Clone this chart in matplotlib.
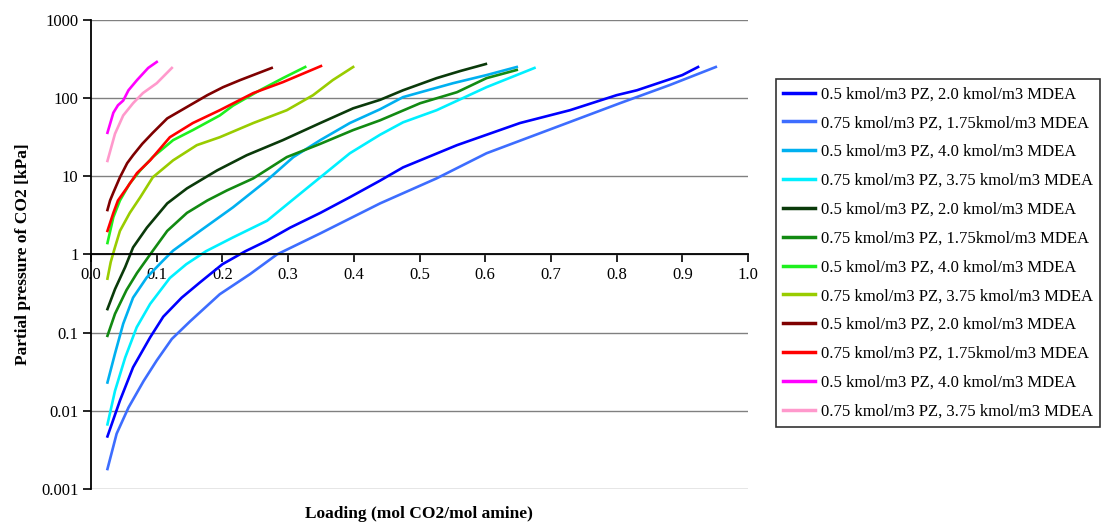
import matplotlib
matplotlib.use("Agg")
import matplotlib.pyplot as plt
from matplotlib.ticker import FixedLocator, FuncFormatter

plt.rcParams['font.family'] = ['Liberation Serif', 'DejaVu Serif']

# values (loading, kPa)
blue_x = [0.025, 0.044, 0.064, 0.09, 0.11, 0.138, 0.166, 0.20, 0.235, 0.268, 0.303, 0.349, 0.394, 0.44, 0.475, 0.557, 0.653, 0.729, 0.80, 0.831, 0.90, 0.924]
blue_y = [0.0047, 0.0135, 0.036, 0.087, 0.16, 0.28, 0.44, 0.75, 1.1, 1.5, 2.2, 3.4, 5.4, 8.8, 13, 25, 48, 70, 109, 126, 197, 250]

royal_x = [0.025, 0.039, 0.057, 0.080, 0.10, 0.123, 0.151, 0.196, 0.242, 0.283, 0.349, 0.44, 0.526, 0.602, 0.703, 0.805, 0.881, 0.951]
royal_y = [0.0018, 0.0051, 0.011, 0.024, 0.044, 0.083, 0.14, 0.31, 0.56, 1.0, 1.86, 4.5, 9.4, 19.7, 41, 86, 147, 250]

sky_x = [0.025, 0.0365, 0.049, 0.064, 0.085, 0.11, 0.125, 0.166, 0.216, 0.268, 0.308, 0.349, 0.394, 0.44, 0.475, 0.551, 0.602, 0.648]
sky_y = [0.023, 0.054, 0.13, 0.28, 0.51, 0.84, 1.12, 2.0, 4.0, 8.9, 17.6, 29, 48, 72, 103, 155, 197, 250]

cyan_x = [0.025, 0.0365, 0.052, 0.0695, 0.09, 0.12, 0.145, 0.175, 0.216, 0.268, 0.303, 0.349, 0.394, 0.44, 0.475, 0.526, 0.602, 0.675]
cyan_y = [0.0067, 0.018, 0.048, 0.117, 0.233, 0.50, 0.75, 1.1, 1.65, 2.7, 4.7, 9.7, 19.7, 34, 49, 70, 138, 243]

dkgreen_x = [0.025, 0.0365, 0.052, 0.064, 0.085, 0.116, 0.146, 0.192, 0.237, 0.292, 0.349, 0.399, 0.44, 0.475, 0.526, 0.562, 0.601]
dkgreen_y = [0.20, 0.36, 0.69, 1.23, 2.2, 4.5, 7.0, 11.9, 18.6, 29, 48, 74, 95, 126, 180, 222, 273]

green_x = [0.025, 0.0365, 0.054, 0.070, 0.09, 0.116, 0.146, 0.177, 0.207, 0.247, 0.298, 0.349, 0.399, 0.44, 0.501, 0.557, 0.602, 0.648]
green_y = [0.091, 0.174, 0.35, 0.58, 1.0, 2.0, 3.4, 4.9, 6.6, 9.4, 17.6, 26, 39, 52, 86, 119, 180, 229]

lime_x = [0.025, 0.034, 0.044, 0.059, 0.075, 0.094, 0.125, 0.155, 0.196, 0.216, 0.257, 0.292, 0.326]
lime_y = [1.4, 3.0, 4.9, 8.1, 11.9, 17.6, 29, 39, 60, 80, 126, 180, 250]

olive_x = [0.025, 0.030, 0.036, 0.044, 0.059, 0.075, 0.094, 0.125, 0.161, 0.196, 0.247, 0.298, 0.338, 0.368, 0.399]
olive_y = [0.49, 0.8, 1.2, 2.0, 3.4, 5.4, 9.7, 16, 25, 31.6, 48, 70, 109, 170, 250]

maroon_x = [0.025, 0.029, 0.034, 0.044, 0.055, 0.064, 0.078, 0.094, 0.116, 0.146, 0.177, 0.201, 0.227, 0.275]
maroon_y = [3.7, 4.9, 6.2, 9.7, 14.7, 18.6, 26, 36, 55, 77, 109, 138, 170, 243]

red_x = [0.025, 0.034, 0.041, 0.055, 0.07, 0.09, 0.12, 0.155, 0.196, 0.247, 0.292, 0.35]
red_y = [2.0, 3.4, 4.9, 7.2, 11, 16, 31.6, 48, 70, 116, 160, 257]

magenta_x = [0.025, 0.034, 0.041, 0.049, 0.057, 0.07, 0.087, 0.10]
magenta_y = [36, 65, 81, 93, 126, 170, 243, 290]

pink_x = [0.025, 0.0365, 0.049, 0.064, 0.079, 0.10, 0.123]
pink_y = [15.7, 35, 60, 86, 116, 155, 243]

labels = ["0.5 kmol/m3 PZ, 2.0 kmol/m3 MDEA",
          "0.75 kmol/m3 PZ, 1.75kmol/m3 MDEA",
          "0.5 kmol/m3 PZ, 4.0 kmol/m3 MDEA",
          "0.75 kmol/m3 PZ, 3.75 kmol/m3 MDEA"] * 3

series = [(blue_x, blue_y), (royal_x, royal_y), (sky_x, sky_y), (cyan_x, cyan_y),
          (dkgreen_x, dkgreen_y), (green_x, green_y), (lime_x, lime_y), (olive_x, olive_y),
          (maroon_x, maroon_y), (red_x, red_y), (magenta_x, magenta_y), (pink_x, pink_y)]
colors = ['#0000FF', '#3D6DFF', '#00B0F0', '#00F0FF',
          '#0A3A0A', '#128A12', '#1EF01E', '#99CC00',
          '#7F0000', '#FF0000', '#FF00FF', '#FF99CC']

fig = plt.figure(figsize=(11.06, 5.30), dpi=100)
ax = fig.add_axes([0.0823, 0.0774, 0.594, 0.885])

for (xs, ys), c, lab in zip(series, colors, labels):
    ax.plot(xs, ys, color=c, lw=1.9, label=lab)

ax.set_yscale('log')
ax.set_ylim(0.001, 1000)
ax.set_xlim(0, 1.0)

ax.yaxis.set_major_locator(FixedLocator([0.001, 0.01, 0.1, 1, 10, 100, 1000]))
ax.yaxis.set_minor_locator(FixedLocator([]))
ax.yaxis.set_major_formatter(FuncFormatter(lambda v, p: '%g' % v))
ax.set_xticks([i / 10 for i in range(11)])
ax.xaxis.set_major_formatter(FuncFormatter(lambda v, p: '%.1f' % v))

ax.grid(axis='y', color='#808080', lw=1)
ax.grid(axis='x', visible=False)
ax.spines['top'].set_visible(False)
ax.spines['right'].set_visible(False)
ax.spines['bottom'].set_position(('data', 1))
ax.spines['left'].set_linewidth(1.3)
ax.spines['bottom'].set_linewidth(1.3)
ax.tick_params(direction='out', length=6, width=1.2, labelsize=12, colors='black', pad=3)

ax.set_ylabel('Partial pressure of CO2 [kPa]', fontsize=12.5, fontweight='bold', labelpad=7)
fig.text(0.379, 0.022, 'Loading (mol CO2/mol amine)', fontsize=12.5, fontweight='bold', ha='center')

leg = fig.legend(loc='upper left', bbox_to_anchor=(0.7016, 0.851), borderaxespad=0,
                 fontsize=12, frameon=True, fancybox=False, edgecolor='black',
                 handlelength=1.9, handletextpad=0.35, labelspacing=0.77, borderpad=0.45)
leg.get_frame().set_linewidth(1.2)
for h in leg.get_lines():
    h.set_linewidth(2.5)

fig.savefig('out.png', dpi=100)
